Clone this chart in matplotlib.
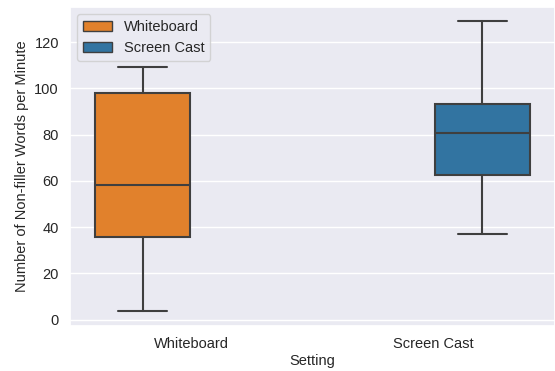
import matplotlib
matplotlib.use("Agg")
import matplotlib.pyplot as plt
import matplotlib.patches as mpatches
import seaborn as sns

sns.set_theme(style="darkgrid")
plt.rcParams['font.family'] = ['Liberation Sans', 'DejaVu Sans']

settings = ["Whiteboard", "Screen Cast"]
hue_colors = ["#e1812c", "#3274a1"]

# five-number summaries per setting (lower whisker, Q1, median, Q3, upper whisker)
whis_lo = [3.7, 37.0]
q1 = [35.8, 62.7]
medians = [58.1, 80.6]
q3 = [98.2, 93.2]
whis_hi = [109.2, 129.0]

fig = plt.figure(figsize=(5.55, 3.71), dpi=100)
ax = fig.add_axes([70 / 555, 1 - 326 / 371, 485 / 555, 319 / 371])

stats = []
for i, name in enumerate(settings):
    stats.append(dict(label=name, whislo=whis_lo[i], q1=q1[i], med=medians[i],
                      q3=q3[i], whishi=whis_hi[i], fliers=[]))

# dodged boxes: hue levels sit either side of each category tick
offsets = [-0.2, 0.2]
line_c = "#3f3f3f"
for i, st in enumerate(stats):
    ax.bxp([st], positions=[i + offsets[i]], widths=0.39, patch_artist=True,
           showfliers=False, manage_ticks=False, capwidths=[0.2],
           boxprops=dict(facecolor=hue_colors[i], edgecolor=line_c, linewidth=1.5),
           medianprops=dict(color=line_c, linewidth=1.5),
           whiskerprops=dict(color=line_c, linewidth=1.5),
           capprops=dict(color=line_c, linewidth=1.5))

ax.set_xlim(-0.5, 1.5)
ax.set_ylim(-2.7, 135.2)
ax.set_xticks([0, 1])
ax.set_xticklabels(settings)
ax.set_yticks(range(0, 121, 20))
ax.xaxis.grid(False)
ax.tick_params(labelsize=10.5, colors="#262626", pad=2)
ax.set_xlabel("Setting", fontsize=10.5, labelpad=2)
ax.set_ylabel("Number of Non-filler Words per Minute", fontsize=10.5, labelpad=4)

handles = [mpatches.Patch(facecolor=c, edgecolor=line_c, label=n)
           for c, n in zip(hue_colors, settings)]
ax.legend(handles=handles, loc="upper left", fontsize=10.5)

fig.savefig("out.png", dpi=100)
